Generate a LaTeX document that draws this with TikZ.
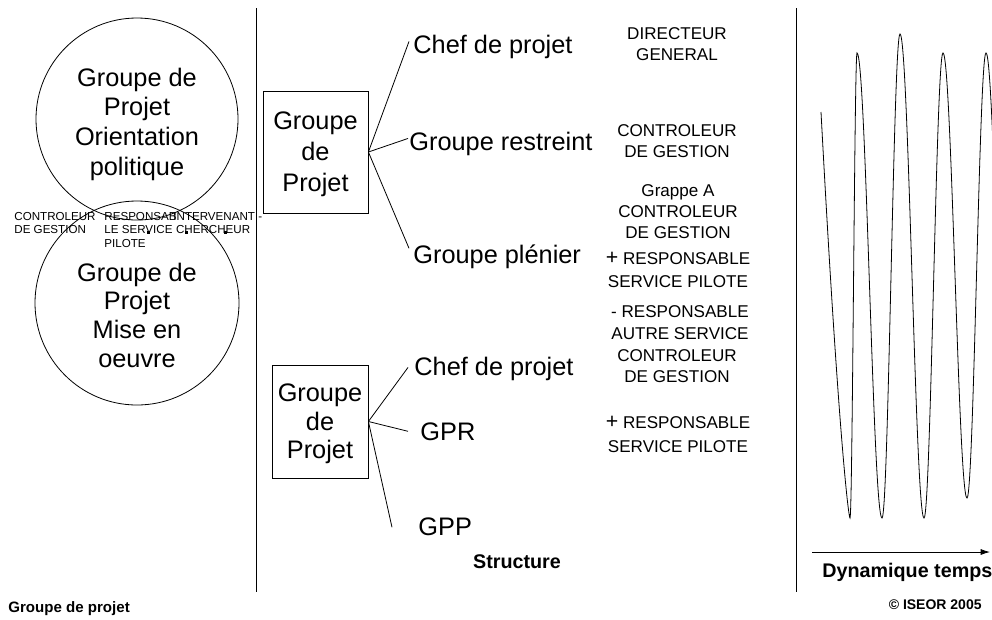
\documentclass[tikz,border=0pt]{standalone}
\usepackage{fontspec}
\setmainfont{Liberation Sans}
\usetikzlibrary{arrows.meta, positioning}
\newcommand{\bigfont}{\fontsize{19}{22.5}\selectfont}
\newcommand{\rolefont}{\fontsize{12.8}{15.4}\selectfont}
\newcommand{\tagfont}{\fontsize{8.7}{10.1}\selectfont}
\newcommand{\plus}{{\fontsize{16}{16}\selectfont+}}
\tikzstyle{block} = [draw, rectangle, align=center, inner sep=0pt, text depth=0pt]
\tikzstyle{ring} = [draw, circle, inner sep=0pt]
\tikzstyle{bubbletxt} = [anchor=base, align=center, inner sep=0pt, font=\fontsize{19}{22.2}\selectfont]
\tikzstyle{branch} = [anchor=base west, inner sep=0pt, font=\bigfont]
\tikzstyle{role} = [anchor=base, inner sep=0pt, align=center, font=\rolefont]
\tikzstyle{tag} = [anchor=base west, inner sep=0pt, align=left, font=\tagfont]
\tikzstyle{title} = [inner sep=0pt, font=\bfseries\fontsize{14.8}{17}\selectfont]

\begin{document}
\begin{tikzpicture}[x=0.75pt, y=-0.75pt, >={Latex[length=7pt,width=4.5pt]}, line width=0.6pt]
    \useasboundingbox (0,0) rectangle (992,619);

    % separators
    \coordinate (sepL1) at (256,8);
    \coordinate (sepL2) at (256,592);
    \coordinate (sepR1) at (796,8);
    \coordinate (sepR2) at (796,592);
    \draw (sepL1) -- (sepL2);
    \draw (sepR1) -- (sepR2);

    % left part: the two circles (base = last line)
    \node [ring, minimum size=151.5pt] (upper) at (137,119) {};
    \node [ring, minimum size=153pt] (lower) at (137,303) {};
    \node [bubbletxt] (uppertxt) at (137,175) {Groupe de\\Projet\\Orientation\\politique};
    \node [bubbletxt, font=\fontsize{19}{21.4}\selectfont] (lowertxt) at (137,367) {Groupe de\\Projet\\Mise en\\oeuvre};
    \node [tag] (ctl) at (14,233.5) {CONTROLEUR\\DE GESTION};
    \node [tag] (resp) at (104,247) {RESPONSAB\\LE SERVICE\\PILOTE};
    \node [tag] (interv) at (173,233.5) {INTERVENANT -\\\hspace*{2pt}CHERCHEUR};
    \foreach \sx in {148,186,225}
        \fill (\sx-1.5,230.5) rectangle ++(3,3);
    \node [anchor=base west, inner sep=0pt, font=\bfseries\fontsize{11.3}{13}\selectfont] (legend) at (8,612) {Groupe de projet};

    % middle part: structure
    \node [block, minimum width=78.75pt, minimum height=91.5pt, font=\fontsize{19}{23.25}\selectfont] (gp1) at (315.5,152) {Groupe\\de\\Projet};
    \node [branch] (chef1) at (413,53) {Chef de projet};
    \node [branch] (restreint) at (409,150) {Groupe restreint};
    \node [branch] (plenier) at (413,263) {Groupe plénier};
    \draw (gp1.east) -- ([shift={(-4,-5)}]chef1.west);
    \draw (gp1.east) -- ([shift={(-1,-5)}]restreint.west);
    \draw (gp1.east) -- ([shift={(-4,-8)}]plenier.west);

    \node [block, minimum width=72pt, minimum height=84.75pt, font=\fontsize{19}{21.4}\selectfont] (gp2) at (320,421.5) {Groupe\\de\\Projet};
    \node [branch] (chef2) at (414,375) {Chef de projet};
    \node [branch] (gpr) at (420,440) {GPR};
    \node [branch] (gpp) at (418,535) {GPP};
    \draw (gp2.east) -- ([shift={(-6,-1)}]chef2.west);
    \draw (gp2.east) -- ([shift={(-12,0)}]gpr.west);
    \draw (gp2.east) -- ([shift={(-26,1)}]gpp.west);
    \node [title, anchor=base] (structure) at (517,568) {Structure};

    % roles (base = last line)
    \node [role] (dg) at (677,60.5) {DIRECTEUR\\GENERAL};
    \node [role] (cg1) at (677,157.5) {CONTROLEUR\\DE GESTION};
    \node [role] (grappe) at (678,238) {Grappe A\\CONTROLEUR\\DE GESTION};
    \node [role, font=\fontsize{12.8}{17.2}\selectfont] (plus1) at (678,287) {\plus\ RESPONSABLE\\SERVICE PILOTE};
    \node [role, font=\fontsize{12.8}{16.5}\selectfont] (minus) at (680,339) {- RESPONSABLE\\AUTRE SERVICE};
    \node [role] (cg2) at (677,382) {CONTROLEUR\\DE GESTION};
    \node [role, font=\fontsize{12.8}{18}\selectfont] (plus2) at (678,452) {\plus\ RESPONSABLE\\SERVICE PILOTE};

    % right part: dynamics
    \begin{scope}
        \clip (797,0) rectangle (992,619);
        \draw (821,112) .. controls (838,430) and (848.5,518) .. (850,518)
            .. controls (852.5,518) and (854.5,53) .. (857,53)
            .. controls (866,53) and (873,518) .. (882,518)
            .. controls (888.5,518) and (893.5,34) .. (900,34)
            .. controls (908.6,34) and (915.4,518) .. (924,518)
            .. controls (930.8,518) and (936.2,53) .. (943,53)
            .. controls (951.6,53) and (958.4,498) .. (967,498)
            .. controls (973.8,498) and (979.2,53) .. (986,53)
            .. controls (994.6,53) and (1001.4,518) .. (1010,518);
    \end{scope}
    \coordinate (t0) at (812,552);
    \coordinate (t1) at (990,552);
    \draw [->] (t0) -- (t1);
    \node [title, anchor=base west] (dyn) at (822,577) {Dynamique temps};
    \node [anchor=base east, inner sep=0pt, font=\bfseries\fontsize{10.5}{12}\selectfont] (copy) at (982,609) {© ISEOR 2005};
\end{tikzpicture}
\end{document}
